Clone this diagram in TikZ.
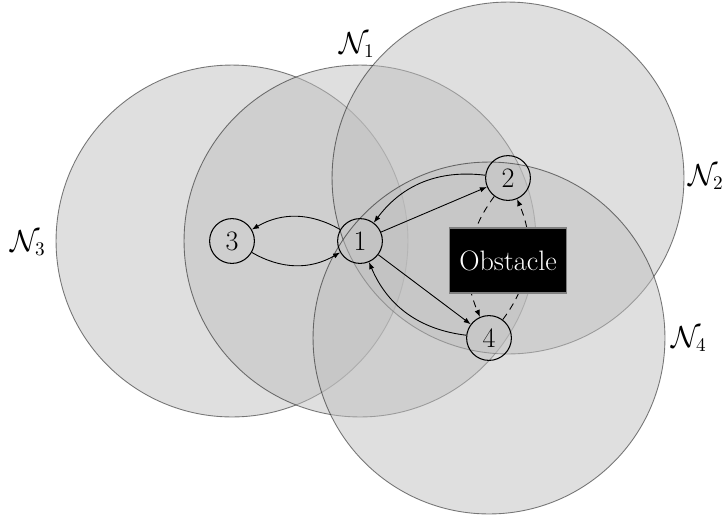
\documentclass[tikz,border=0pt]{standalone}
\usetikzlibrary{arrows.meta}
\begin{document}
\begin{tikzpicture}[x=0.02cm,y=-0.02cm,
  font=\fontsize{16}{19}\selectfont,
  agent/.style={circle,draw=black,line width=0.6pt,minimum size=25.5pt,inner sep=0pt},
  region/.style={fill=black!25,fill opacity=0.5,draw=black,draw opacity=0.5,line width=0.5pt},
  link/.style={line width=0.5pt,-{Latex[length=4pt,width=3pt]}},
  blocked/.style={link,dash pattern=on 4pt off 3pt},
  lbl/.style={inner sep=0pt}]
\path[use as bounding box] (0,0) rectangle (726,518);
% positions
\coordinate (c1) at (360,241);
\coordinate (c2) at (508,178);
\coordinate (c3) at (232,241);
\coordinate (c4) at (489,338);
% neighbourhoods
\path[region] (c3) circle[radius=3.52cm];
\path[region] (c1) circle[radius=3.52cm];
\path[region] (c2) circle[radius=3.52cm];
\path[region] (c4) circle[radius=3.52cm];
% labels
\node[lbl] (L1) at (357,45) {$\mathcal{N}_1$};
\node[lbl] (L2) at (706,177) {$\mathcal{N}_2$};
\node[lbl] (L3) at (28,243) {$\mathcal{N}_3$};
\node[lbl] (L4) at (689,339) {$\mathcal{N}_4$};
% agents
\node[agent] (n1) at (c1) {1};
\node[agent] (n2) at (c2) {2};
\node[agent] (n3) at (c3) {3};
\node[agent] (n4) at (c4) {4};
% links
\draw[link] (n1) to[bend right=30] (n3);
\draw[link] (n3) to[bend right=30] (n1);
\draw[link] (n1) -- (n2);
\draw[link] (n2) to[bend right=30] (n1);
\draw[link] (n1) -- (n4);
\draw[link] (n4) to[bend left=30] (n1);
\draw[blocked] (n2) to[bend right=30] (n4);
\draw[blocked] (n4) to[bend right=30] (n2);
% obstacle
\node[fill=black,draw=black!50,line width=0.6pt,text=white,minimum width=67pt,minimum height=37pt,inner sep=0pt] (obs) at (508,260.5) {Obstacle};
\end{tikzpicture}
\end{document}
